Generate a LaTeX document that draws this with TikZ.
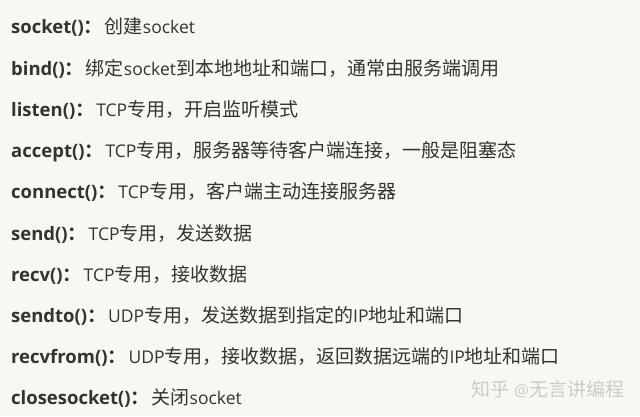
\documentclass[tikz,border=0pt]{standalone}
\usepackage{fontspec}
\setmainfont{Open Sans}
\newfontfamily\cjk{Noto Sans CJK SC}[BoldFont={Noto Sans CJK SC Bold}]
\newcommand\C[1]{{\cjk\fontsize{19}{22}\selectfont #1}}
\newcommand\lab[1]{{\fontsize{18.5}{20}\selectfont\textbf{#1\makebox[21pt][l]{\C{：}}}}}
\definecolor{bg}{HTML}{F8F7F2}
\definecolor{txt}{HTML}{333333}
\definecolor{wm}{HTML}{CBCBC8}
\begin{document}
\begin{tikzpicture}[x=1pt,y=1pt,
  textline/.style={anchor=base west,inner sep=0pt,text=txt,font=\fontsize{17.5}{20}\selectfont},
  wmark/.style={anchor=center,inner sep=0pt,text=wm,font=\fontsize{16.5}{20}\selectfont}]
\fill[bg] (0,0) rectangle (640,416);
\useasboundingbox (0,0) rectangle (640,416);
\node[textline] (l1) at (11,416-34) {\lab{socket()}\C{创建}socket};
\node[textline] (l2) at (11,416-75) {\lab{bind()}\C{绑定}socket\C{到本地地址和端口，通常由服务端调用}};
\node[textline] (l3) at (11,416-116) {\lab{listen()}TCP\C{专用，开启监听模式}};
\node[textline] (l4) at (11,416-157) {\lab{accept()}TCP\C{专用，服务器等待客户端连接，一般是阻塞态}};
\node[textline] (l5) at (11,416-198) {\lab{connect()}TCP\C{专用，客户端主动连接服务器}};
\node[textline] (l6) at (11,416-240) {\lab{send()}TCP\C{专用，发送数据}};
\node[textline] (l7) at (11,416-281) {\lab{recv()}TCP\C{专用，接收数据}};
\node[textline] (l8) at (11,416-322) {\lab{sendto()}UDP\C{专用，发送数据到指定的}IP\C{地址和端口}};
\node[textline] (l9) at (11,416-363) {\lab{recvfrom()}UDP\C{专用，接收数据，返回数据远端的}IP\C{地址和端口}};
\node[textline] (l10) at (11,416-404) {\lab{closesocket()}\C{关闭}socket};
\node[wmark] (wm) at (548,416-389) {\C{知乎} @\C{无言讲编程}};
\end{tikzpicture}
\end{document}
